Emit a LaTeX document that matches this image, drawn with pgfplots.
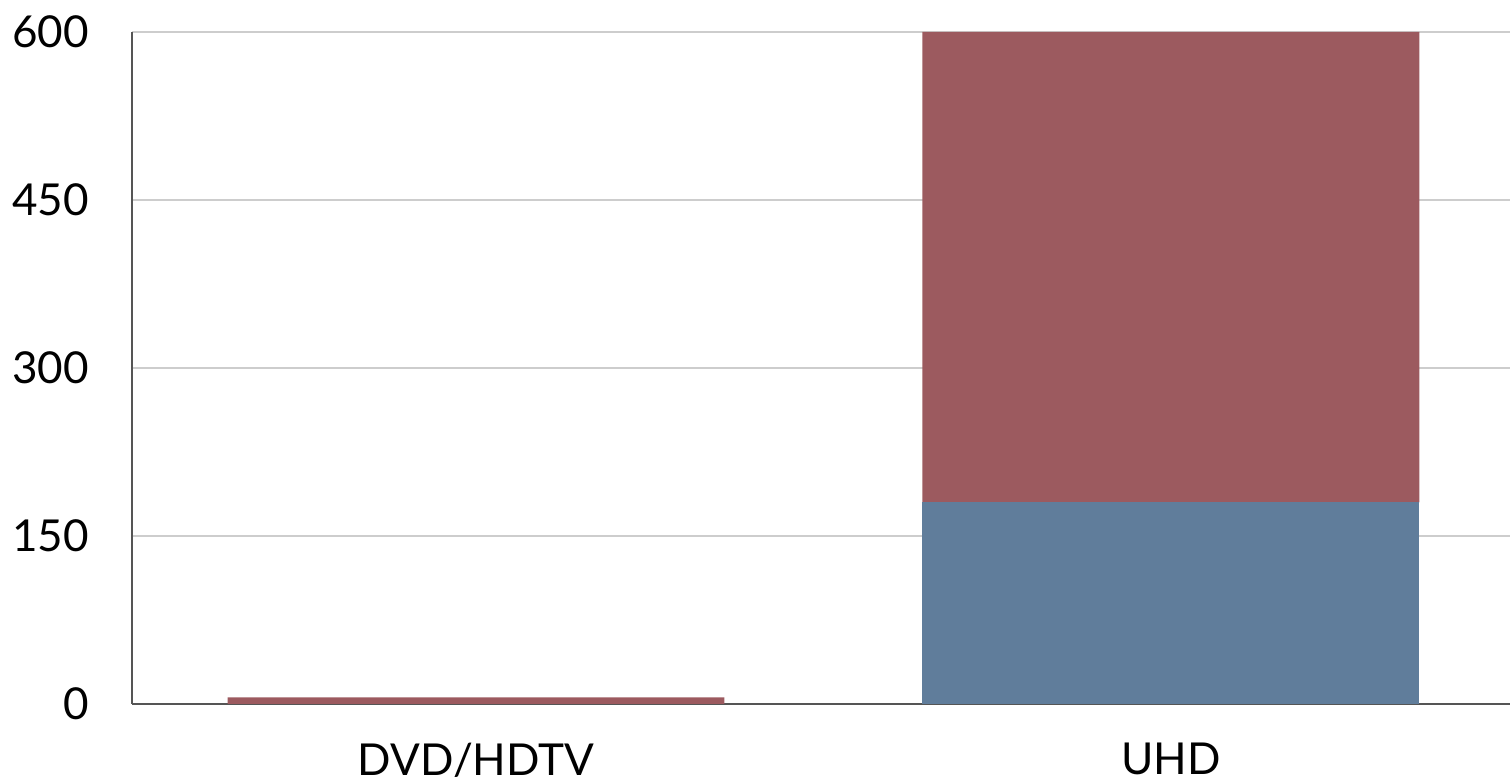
\documentclass[border=0pt]{standalone}
\usepackage{pgfplots}
\pgfplotsset{compat=1.18}
\usepackage{fontspec}
\setmainfont{Lato}
\definecolor{barred}{RGB}{156,90,95}
\definecolor{barblue}{RGB}{96,125,155}
\definecolor{gridgray}{RGB}{205,205,205}
\definecolor{axgray}{RGB}{85,85,85}
\begin{document}
\begin{tikzpicture}
\begin{axis}[
  name=ax,
  scale only axis,
  width=689pt, height=336pt,
  ybar stacked,
  bar width=0.715,
  xmin=-0.495, xmax=1.488,
  ymin=0, ymax=600,
  xtick={0,1},
  xticklabels={DVD/HDTV,UHD},
  ytick={0,150,300,450,600},
  major tick length=0pt,
  axis x line*=bottom,
  axis y line*=left,
  axis line style={draw=axgray, line width=1pt, -},
  ymajorgrids,
  grid style={draw=gridgray, line width=0.8pt},
  /pgf/number format/assume math mode=true,
  ticklabel style={font=\fontsize{22}{26}\selectfont, text=black},
  yticklabel style={xshift=-18pt},
  xticklabel style={yshift=-16pt},
  clip=false,
]
\addplot[fill=barblue, draw=none] coordinates {(0,0) (1,180)};
\addplot[fill=barred, draw=none] coordinates {(0,6) (1,420)};
\end{axis}
\pgfresetboundingbox
\useasboundingbox ([xshift=-66pt,yshift=-40pt]ax.south west) rectangle ([yshift=16pt]ax.north east);
\end{tikzpicture}
\end{document}
